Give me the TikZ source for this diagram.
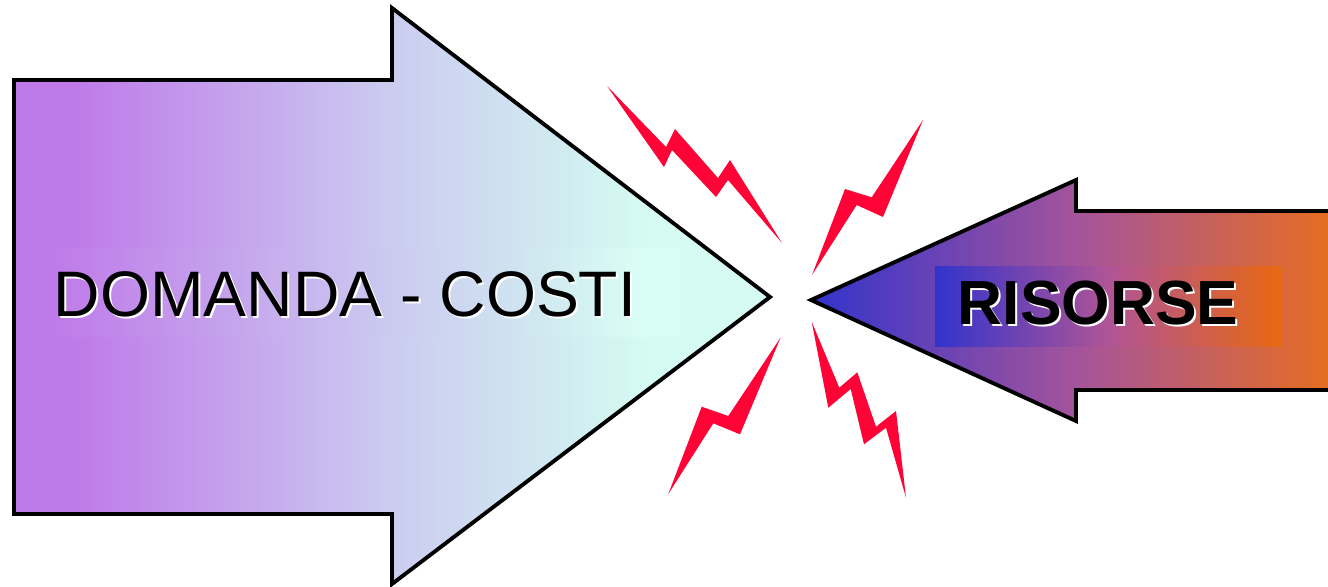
\documentclass[tikz,border=0pt]{standalone}
\usepackage{fontspec}
\setmainfont{Liberation Sans}
\usepackage{xcolor}
\usepackage{tikz}
\usetikzlibrary{positioning, calc}

\definecolor{viola}{RGB}{191,122,233}
\definecolor{lilla}{RGB}{203,204,240}
\definecolor{azzurro}{RGB}{208,232,240}
\definecolor{acqua}{RGB}{213,251,242}
\definecolor{acquachiaro}{RGB}{217,254,245}
\definecolor{blu}{RGB}{51,51,204}
\definecolor{porpora}{RGB}{165,84,155}
\definecolor{porporabox}{RGB}{176,84,150}
\definecolor{arancio}{RGB}{234,110,26}
\definecolor{aranciobox}{RGB}{232,104,16}
\definecolor{rossofulmine}{RGB}{255,3,55}

% sfumature (25bp = bordo sinistro, 75bp = bordo destro)
\pgfdeclarehorizontalshading{grande}{100bp}{color(0bp)=(viola); color(29bp)=(viola);
  color(50bp)=(lilla); color(60bp)=(azzurro); color(67bp)=(acqua); color(100bp)=(acqua)}
\pgfdeclarehorizontalshading{grandebox}{100bp}{color(0bp)=(viola); color(26bp)=(viola);
  color(53bp)=(lilla); color(64bp)=(azzurro); color(72bp)=(acquachiaro); color(100bp)=(acquachiaro)}

\tikzset{
  freccia/.style={draw=black, line width=2.2pt, line join=miter},
  fulmine/.style={fill=rossofulmine, draw=none},
  scritta/.style={anchor=base, inner sep=0pt},
}

\begin{document}
\begin{tikzpicture}[x=0.02cm, y=-0.02cm]
    \useasboundingbox (0,0) rectangle (1328,586);
    \clip (0,0) rectangle (1328,586);

    % Freccia grande
    \draw[freccia, shading=grande, shading angle=0]
        (14,80) -- (392,80) -- (392,8) -- (770,297) -- (392,584) -- (392,514) -- (14,514) -- cycle;
    \shade[shading=grandebox, shading angle=0] (40,248) rectangle (680,336);
    \node[scritta, white] at (347,318) {\fontsize{36.6pt}{40pt}\selectfont DOMANDA - COSTI};
    \node[scritta] (domanda) at (345,316) {\fontsize{36.6pt}{40pt}\selectfont DOMANDA - COSTI};

    % Freccia piccola
    \draw[freccia, left color=blu, right color=arancio, middle color=porpora]
        (811,300) -- (1076,180) -- (1076,211) -- (1345,211) -- (1345,390) -- (1076,390) -- (1076,421) -- cycle;
    \shade[left color=blu, right color=aranciobox, middle color=porporabox] (935,266) rectangle (1282,346);
    \node[scritta, white] at (1100,326) {\fontsize{35.5pt}{38pt}\selectfont\bfseries RISORSE};
    \node[scritta] (risorse) at (1098,324) {\fontsize{35.5pt}{38pt}\selectfont\bfseries RISORSE};

    % Fulmini
    \fill[fulmine] (607,86) -- (664,167) -- (672,150) -- (716,197) -- (728,180) -- (782,243)
        -- (730,160) -- (718,178) -- (675,129) -- (666,147) -- cycle;
    \fill[fulmine] (923,120) -- (871.7,197.3) -- (845,189) -- (812,275) -- (856.7,205) -- (883,217) -- cycle;
    \fill[fulmine] (780.7,337.3) -- (728.3,416) -- (701.7,406.7) -- (668.3,494) -- (713.3,423.3) -- (740,434.3) -- cycle;
    \fill[fulmine] (811.7,321.7) -- (828.3,407.7) -- (850.7,389) -- (864,444.3) -- (886,427.7) -- (906,497.7)
        -- (896,411) -- (876,426.7) -- (857.3,372.3) -- (839.3,387.7) -- cycle;

\end{tikzpicture}
\end{document}
